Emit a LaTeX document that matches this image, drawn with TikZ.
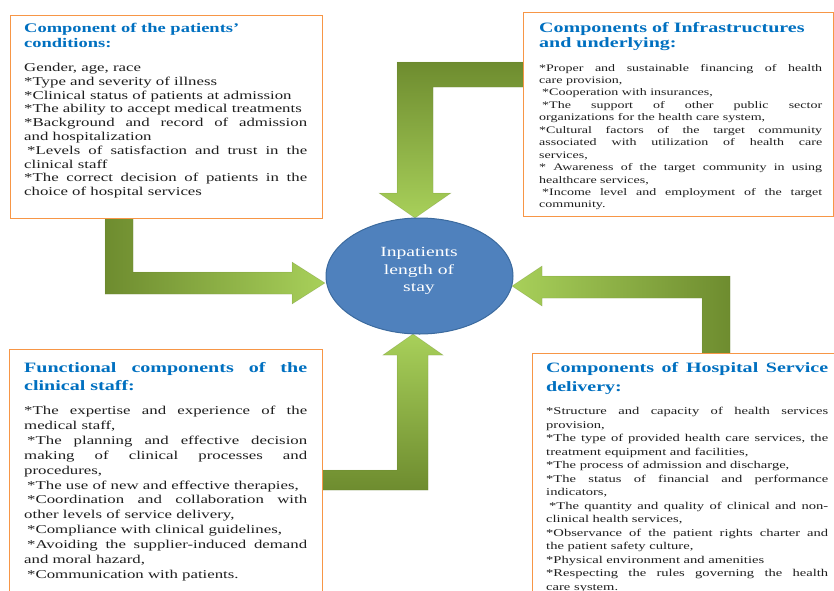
\documentclass[tikz,border=0pt]{standalone}
\usepackage{fontspec}
\setmainfont{Liberation Serif}[FakeStretch=1.4]
\usetikzlibrary{shapes.geometric}
\definecolor{boxorange}{HTML}{F79646}
\definecolor{titleblue}{HTML}{0070C0}
\definecolor{ellfill}{HTML}{4F81BD}
\definecolor{elldraw}{HTML}{3B6A9E}
\definecolor{gdark}{HTML}{6E8C2F}
\definecolor{glight}{HTML}{A8D05A}
\definecolor{bodytext}{HTML}{1E1E1E}
\tolerance=10000
\hyphenpenalty=10000
\hbadness=10000
\tikzset{
  panel/.style={draw=boxorange, line width=1.4pt, fill=white, anchor=north west, inner sep=0pt},
  ttl/.style={anchor=base west, inner sep=0pt, text width=283pt, align=justify, text=titleblue,
    font=\bfseries\fontsize{14.3}{15}\selectfont},
  bodytxt/.style={anchor=base west, inner sep=0pt, text width=283pt, align=justify, text=bodytext},
  greenarrow/.style={draw=gdark!80!black, draw opacity=0.25, line width=0.5pt}
}
\begin{document}
\begin{tikzpicture}[x=1pt,y=-1pt]
\useasboundingbox (0,0) rectangle (834,590);

% arrows
\shade[greenarrow, left color=gdark, right color=glight]
  (105,218) -- (105,294) -- (292,294) -- (292,304) -- (325,283) -- (292,262) -- (292,272) -- (133,272) -- (133,218) -- cycle;
\shade[greenarrow, top color=gdark, bottom color=glight]
  (523,62) -- (397,62) -- (397,193) -- (379,193) -- (415,218) -- (451,193) -- (433,193) -- (433,87) -- (523,87) -- cycle;
\shade[greenarrow, top color=glight, bottom color=gdark]
  (321,470) -- (397,470) -- (397,355) -- (383,355) -- (413,334) -- (443,355) -- (428,355) -- (428,490) -- (321,490) -- cycle;
\shade[greenarrow, left color=glight, right color=gdark]
  (702,353) -- (702,298) -- (542,298) -- (542,306) -- (512,286) -- (542,266) -- (542,276) -- (730,276) -- (730,353) -- cycle;

% boxes
\node[panel, minimum width=312pt, minimum height=203pt] (tl) at (10,15) {};
\node[panel, minimum width=309.5pt, minimum height=204pt] (tr) at (523,12) {};
\node[panel, minimum width=313pt, minimum height=250pt] (bl) at (9,349) {};
\node[panel, minimum width=310pt, minimum height=250pt] (br) at (532,353) {};

% centre
\node[ellipse, draw=elldraw, line width=1pt, fill=ellfill, minimum width=187pt, minimum height=116pt, inner sep=0pt] (los) at (419.5,276) {};
\node[text=white, align=center, inner sep=0pt, font=\fontsize{14}{17.5}\selectfont] (lostext) at (419,271) {Inpatients\\length of\\stay};

% top left
\node[ttl, font=\bfseries\fontsize{13.2}{15}\selectfont] (tlt) at (24,32.5) {Component of the patients’\\conditions:};
\node[bodytxt, font=\fontsize{12}{13.8}\selectfont] (tlb) at (24,71.5) {%
Gender, age, race\par
*Type and severity of illness\par
*Clinical status of patients at admission\par
*The ability to accept medical treatments\par
*Background and record of admission\linebreak and hospitalization\par
\hspace{3pt}*Levels of satisfaction and trust in the\linebreak clinical staff\par
*The correct decision of patients in the\linebreak choice of hospital services};

% top right
\node[ttl] (trt) at (539,32.5) {Components of Infrastructures\\and underlying:};
\node[bodytxt, font=\fontsize{10}{12.45}\selectfont] (trb) at (539,71) {%
*Proper and sustainable financing of health\linebreak care provision,\par
\hspace{3pt}*Cooperation with insurances,\par
\hspace{3pt}*The support of other public sector\linebreak organizations for the health care system,\par
*Cultural factors of the target community\linebreak associated with utilization of health care\linebreak services,\par
* Awareness of the target community in using\linebreak healthcare services,\par
\hspace{3pt}*Income level and employment of the target\linebreak community.};

% bottom left
\node[ttl, font=\bfseries\fontsize{14.3}{18}\selectfont] (blt) at (24,372.5) {Functional components of the\linebreak clinical staff:};
\node[bodytxt, font=\fontsize{12}{14.9}\selectfont] (blb) at (24,414.5) {%
*The expertise and experience of the\linebreak medical staff,\par
\hspace{3pt}*The planning and effective decision\linebreak making of clinical processes and\linebreak procedures,\par
\hspace{3pt}*The use of new and effective therapies,\par
\hspace{3pt}*Coordination and collaboration with\linebreak other levels of service delivery,\par
\hspace{3pt}*Compliance with clinical guidelines,\par
\hspace{3pt}*Avoiding the supplier-induced demand\linebreak and moral hazard,\par
\hspace{3pt}*Communication with patients.};

% bottom right
\node[ttl, text width=282pt, font=\bfseries\fontsize{14.3}{19}\selectfont] (brt) at (546,372.5) {Components of Hospital Service\linebreak delivery:};
\node[bodytxt, text width=282pt, font=\fontsize{10.4}{13.5}\selectfont] (brb) at (546,414.5) {%
*Structure and capacity of health services\linebreak provision,\par
*The type of provided health care services, the\linebreak treatment equipment and facilities,\par
*The process of admission and discharge,\par
*The status of financial and performance\linebreak indicators,\par
\hspace{3pt}*The quantity and quality of clinical and non-\linebreak clinical health services,\par
*Observance of the patient rights charter and\linebreak the patient safety culture,\par
*Physical environment and amenities\par
*Respecting the rules governing the health\linebreak care system.};
\end{tikzpicture}
\end{document}
